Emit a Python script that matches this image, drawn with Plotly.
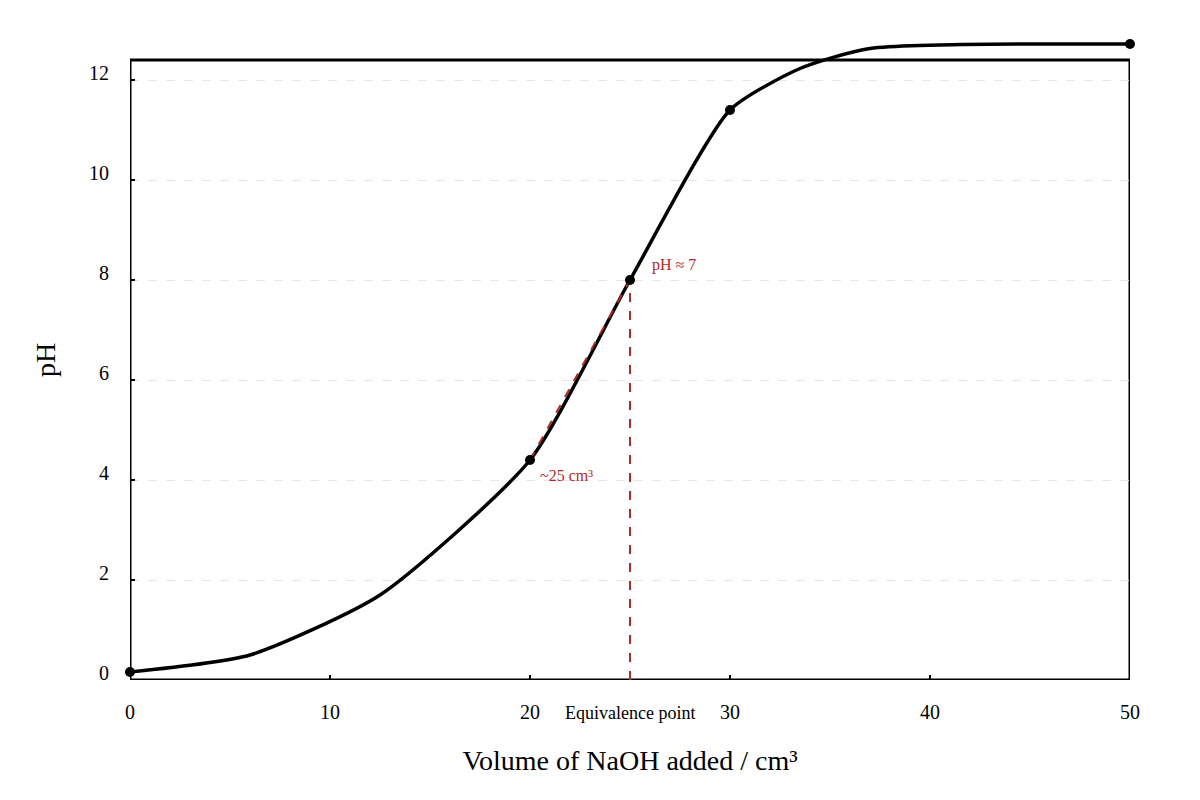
import plotly.graph_objects as go

# titration curve: volume of NaOH (cm3) vs pH
volume = [0, 6, 12.5, 20, 25, 30, 33.5, 37, 50]
ph = [0.16, 0.5, 1.7, 4.4, 8.0, 11.4, 12.23, 12.63, 12.72]

# highlighted points on the curve
marker_volume = [0, 20, 25, 30, 50]
marker_ph = [0.16, 4.4, 8.0, 11.4, 12.72]

# equivalence construction
tangent_x = [20, 25]
tangent_y = [4.4, 8.0]
equiv_x = [25, 25]
equiv_y = [0, 8.0]

x_ticks = [0, 10, 20, 30, 40, 50]
y_ticks = [0, 2, 4, 6, 8, 10, 12]

RED = "#b22a2a"
FONT = "Liberation Serif"

fig = go.Figure()

fig.add_trace(go.Scatter(
    x=volume, y=ph, mode="lines",
    line=dict(color="black", width=3.5, shape="spline", smoothing=0.6),
))
fig.add_trace(go.Scatter(
    x=tangent_x, y=tangent_y, mode="lines",
    line=dict(color=RED, width=2, dash="dash"), hoverinfo="skip",
))
fig.add_trace(go.Scatter(
    x=equiv_x, y=equiv_y, mode="lines",
    line=dict(color=RED, width=2, dash="dash"), hoverinfo="skip",
))
fig.add_trace(go.Scatter(
    x=marker_volume, y=marker_ph, mode="markers",
    marker=dict(color="black", size=10), cliponaxis=False,
))

# frame of the plotting box (curve is allowed to run over its top edge)
fig.add_shape(type="rect", x0=0, x1=50, y0=0, y1=12.4,
              line=dict(color="black", width=3), layer="below")

fig.add_annotation(x=26, y=8.3, text="pH ≈ 7", showarrow=False,
                   xanchor="left", font=dict(family=FONT, size=16, color=RED))
fig.add_annotation(x=20.4, y=4.1, text="~25 cm³", showarrow=False,
                   xanchor="left", font=dict(family=FONT, size=16, color=RED))
fig.add_annotation(x=25, y=0, yref="y", text="Equivalence point", showarrow=False,
                   yanchor="middle", yshift=-33,
                   font=dict(family=FONT, size=18, color="black"))

fig.update_layout(
    width=1200, height=800,
    margin=dict(l=122, r=78, t=32, b=128),
    plot_bgcolor="white", paper_bgcolor="white",
    showlegend=False,
    font=dict(family=FONT, size=20, color="black"),
)
fig.update_xaxes(
    range=[0, 50], tickvals=x_ticks,
    ticks="inside", ticklen=5, tickwidth=1.5, tickcolor="black",
    showgrid=False, zeroline=False, showline=False, automargin=False,
    ticklabelstandoff=18,
    title=dict(text="Volume of NaOH added / cm³", font=dict(size=28), standoff=28),
)
fig.update_yaxes(
    range=[0, 12.8], tickvals=y_ticks,
    ticks="inside", ticklen=5, tickwidth=1.5, tickcolor="black",
    showgrid=True, gridcolor="#e6e6e6", griddash="dash", gridwidth=1,
    zeroline=False, showline=False, automargin=False,
    ticklabelstandoff=20, ticklabelshift=-7,
    title=dict(text="pH", font=dict(size=28), standoff=25),
)

fig.write_html("out.html")
